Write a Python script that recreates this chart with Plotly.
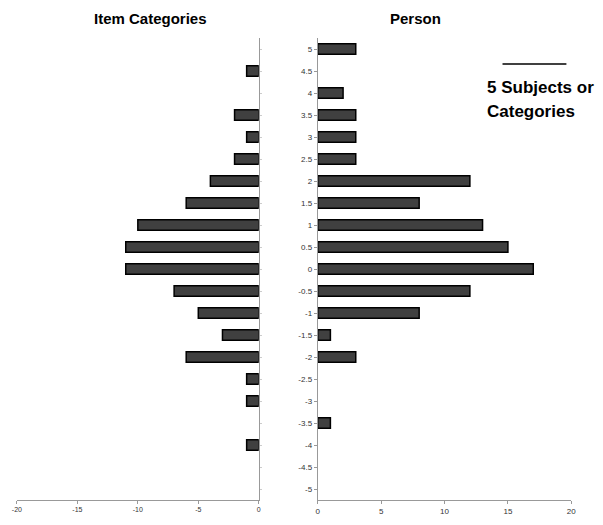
import plotly.graph_objects as go

levels = [5, 4.5, 4, 3.5, 3, 2.5, 2, 1.5, 1, 0.5, 0, -0.5, -1, -1.5, -2, -2.5, -3, -3.5, -4, -4.5, -5]
item_counts = [0, 1, 0, 2, 1, 2, 4, 6, 10, 11, 11, 7, 5, 3, 6, 1, 1, 0, 1, 0, 0]
person_counts = [3, 0, 2, 3, 3, 3, 12, 8, 13, 15, 17, 12, 8, 1, 3, 0, 0, 1, 0, 0, 0]
left_ticks = [-20, -15, -10, -5, 0]
right_ticks = [0, 5, 10, 15, 20]

OFF = 8  # page body margin
W, H = 603 - 2 * OFF, 525 - 2 * OFF
def fx(px): return (px - OFF) / W
def fy(py): return 1 - (py - OFF) / H

left_x = [-v if v else None for v in item_counts]
right_x = [v if v else None for v in person_counts]

fig = go.Figure()
fig.add_trace(go.Bar(
    y=levels, x=left_x, orientation='h',
    marker=dict(color='#404040', line=dict(color='black', width=1.5)),
    xaxis='x', yaxis='y', showlegend=False))
fig.add_trace(go.Bar(
    y=levels, x=right_x, orientation='h',
    marker=dict(color='#404040', line=dict(color='black', width=1.5)),
    xaxis='x2', yaxis='y2', showlegend=False))

axis_font = dict(family='Liberation Sans, Arial', size=8, color='#333333')
fig.update_layout(
    width=W, height=H, margin=dict(l=0, r=0, t=0, b=0),
    plot_bgcolor='white', paper_bgcolor='white', bargap=0.52,
    xaxis=dict(domain=[fx(12), fx(258)], range=[-20, 0], tickvals=left_ticks,
               ticktext=[str(t) for t in left_ticks],
               showline=True, linecolor='#999999', linewidth=1, ticks='outside',
               ticklen=3, tickcolor='#999999', showgrid=False, zeroline=False,
               tickfont=dict(family='Liberation Sans, Arial', size=7, color='#333333'),
               anchor='y'),
    yaxis=dict(domain=[fy(500), fy(38)], range=[-5.25, 5.25], side='right',
               showline=True, linecolor='#999999', linewidth=1,
               showticklabels=False, showgrid=False, zeroline=False,
               tickvals=levels, ticks='outside', ticklen=2, tickcolor='#cccccc',
               anchor='x'),
    xaxis2=dict(domain=[fx(318), fx(576)], range=[0, 20], tickvals=right_ticks,
                showline=True, linecolor='#999999', linewidth=1, ticks='outside',
                ticklen=3, tickcolor='#999999', showgrid=False, zeroline=False,
                tickfont=axis_font, anchor='y2'),
    yaxis2=dict(domain=[fy(500), fy(38)], range=[-5.25, 5.25],
                tickvals=levels, ticktext=[str(v) for v in levels],
                showline=True, linecolor='#999999', linewidth=1, ticks='outside',
                ticklen=3, tickcolor='#999999', showgrid=False, zeroline=False,
                tickfont=axis_font, anchor='x2'),
)

title_font = dict(family='Liberation Sans, Arial', size=15, color='black')
legend_font = dict(family='Liberation Sans, Arial', size=17, color='black')
fig.add_annotation(x=fx(148), y=1, xref='paper', yref='paper', text='<b>Item Categories</b>',
                   showarrow=False, font=title_font, xanchor='center', yanchor='top')
fig.add_annotation(x=fx(417), y=1, xref='paper', yref='paper', text='<b>Person</b>',
                   showarrow=False, font=title_font, xanchor='center', yanchor='top')
fig.add_shape(type='line', xref='paper', yref='paper', x0=fx(506), x1=fx(571),
              y0=fy(64), y1=fy(64), line=dict(color='black', width=1.5))
fig.add_annotation(x=fx(488), y=fy(88), xref='paper', yref='paper', text='<b>5 Subjects or</b>',
                   showarrow=False, font=legend_font, xanchor='left', yanchor='middle')
fig.add_annotation(x=fx(488), y=fy(112), xref='paper', yref='paper', text='<b>Categories</b>',
                   showarrow=False, font=legend_font, xanchor='left', yanchor='middle')

fig.write_html('out.html')
